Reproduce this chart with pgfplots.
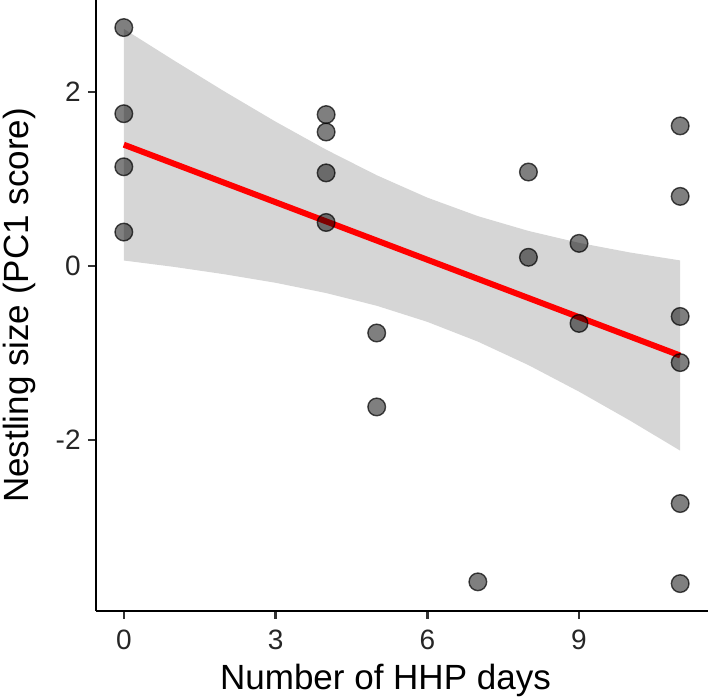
\documentclass[border=0pt]{standalone}
\usepackage{pgfplots}
\pgfplotsset{compat=1.18}
\usepackage{fontspec}
\setmainfont{Liberation Sans}
\definecolor{band}{RGB}{214,214,214}
\begin{document}
\begin{tikzpicture}
\begin{axis}[
  scale only axis,
  width=306pt, height=305.5pt,
  xmin=-0.55, xmax=11.55,
  ymin=-3.965, ymax=3.057,
  axis x line*=bottom, axis y line*=left,
  axis line style={line width=1.3pt, black},
  xtick={0,3,6,9}, xticklabels={0,3,6,9},
  ytick={-2,0,2}, yticklabels={-2,0,2},
  tick align=outside,
  major tick length=4pt,
  tick style={line width=1.3pt, black!80},
  ticklabel style={font=\fontsize{14}{16}\selectfont, text=black!85},
  xticklabel style={inner sep=0pt, anchor=north, yshift=-5.5pt},
  yticklabel style={inner sep=0pt, anchor=east, xshift=-3.5pt},
  xlabel={Number of HHP days},
  ylabel={Nestling size (PC1 score)},
  label style={font=\fontsize{17.5}{20}\selectfont},
  xlabel style={at={(axis description cs:0.473,-0.1293)}, anchor=base, inner sep=0pt},
  ylabel style={at={(axis description cs:-0.1111,0.5)}, anchor=base, inner sep=0pt},
  clip=false,
]
% confidence band
\addplot[fill=band, draw=none] coordinates {
 (0,2.725) (1,2.359) (2,2.002) (3,1.659) (4,1.337) (5,1.043) (6,0.786) (7,0.573) (8,0.403) (9,0.266) (10,0.156) (11,0.064)
 (11,-2.122) (10,-1.774) (9,-1.444) (8,-1.139) (7,-0.869) (6,-0.642) (5,-0.457) (4,-0.311) (3,-0.193) (2,-0.096) (1,-0.011) (0,0.063)
} -- cycle;
% regression line
\addplot[red, line width=3pt] coordinates {(0,1.394) (11,-1.029)};
% points
\addplot[only marks, mark=*, mark size=4.4pt,
  mark options={fill=black, fill opacity=0.5, draw=black, draw opacity=0.7, line width=0.7pt}]
coordinates {
 (0,2.74) (0,1.75) (0,1.14) (0,0.39)
 (4,1.74) (4,1.54) (4,1.07) (4,0.50)
 (5,-0.77) (5,-1.62)
 (7,-3.63)
 (8,1.08) (8,0.10)
 (9,0.26) (9,-0.66)
 (11,1.61) (11,0.80) (11,-0.58) (11,-1.11) (11,-2.73) (11,-3.65)
};
\end{axis}
\pgfresetboundingbox
\path[use as bounding box] ([xshift=-48pt,yshift=-44pt]current axis.south west) rectangle (current axis.north east);
\end{tikzpicture}
\end{document}
